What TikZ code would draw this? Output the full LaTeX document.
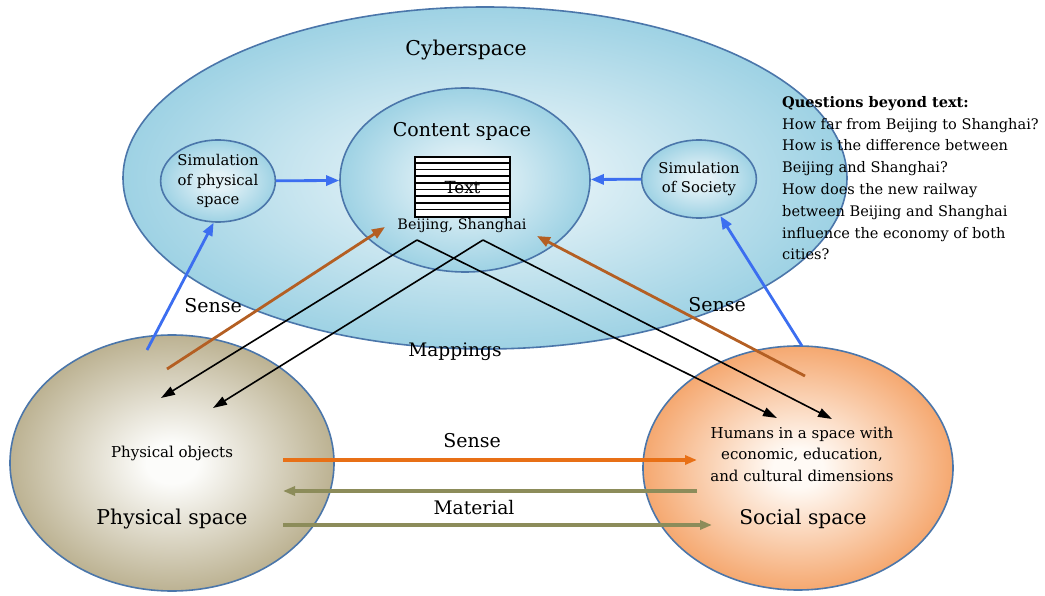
\documentclass[tikz,border=0pt]{standalone}
\usepackage{fontspec}
\setmainfont{DejaVu Serif}
\usetikzlibrary{shapes.geometric,arrows.meta}
\definecolor{bordercol}{RGB}{75,118,170}
\definecolor{cyberout}{RGB}{158,210,228}
\definecolor{cyberin}{RGB}{228,242,247}
\definecolor{physout}{RGB}{188,178,146}
\definecolor{physin}{RGB}{252,252,250}
\definecolor{socout}{RGB}{245,168,112}
\definecolor{socin}{RGB}{255,250,245}
\definecolor{bluearr}{RGB}{60,110,240}
\definecolor{brownarr}{RGB}{180,95,35}
\definecolor{orangearr}{RGB}{232,112,22}
\definecolor{olivearr}{RGB}{140,140,90}
\pgfdeclareradialshading{cybersh}{\pgfpoint{0bp}{0bp}}{color(0bp)=(cyberin); color(5bp)=(cyberin); color(25bp)=(cyberout); color(50bp)=(cyberout)}
\pgfdeclareradialshading{physsh}{\pgfpoint{0bp}{0bp}}{color(0bp)=(physin); color(4bp)=(physin); color(25bp)=(physout); color(50bp)=(physout)}
\pgfdeclareradialshading{socsh}{\pgfpoint{0bp}{0bp}}{color(0bp)=(socin); color(4bp)=(socin); color(25bp)=(socout); color(50bp)=(socout)}
\begin{document}
\begin{tikzpicture}[x=1pt,y=-1pt,
  space/.style={ellipse, draw=bordercol, line width=1.6pt, inner sep=0pt},
  cyber/.style={space, shading=cybersh},
  conn/.style={line width=2.8pt, -{Triangle[length=13pt,width=10pt]}},
  hconn/.style={line width=3.4pt, -{Triangle[length=12pt,width=9pt]}},
  bconn/.style={line width=1.6pt, -{Triangle[length=14pt,width=9pt]}},
  lbl/.style={inner sep=0pt, font=\fontsize{19}{22}\selectfont},
]
\useasboundingbox (0,0) rectangle (1045,596);

% cyberspace
\node[cyber, minimum width=724pt, minimum height=342pt] (cyber) at (485,178) {};
\node[lbl, font=\fontsize{20.4}{24}\selectfont] (cyberlbl) at (466,50) {Cyberspace};
\node[cyber, minimum width=250pt, minimum height=184pt] (content) at (465,180) {};
\node[lbl, font=\fontsize{19}{22}\selectfont] (contentlbl) at (462,131) {Content space};
\node[cyber, minimum width=110pt, minimum height=82pt, align=center,
  font=\fontsize{14.8}{19.5}\selectfont] (simphys) at (218,181) {Simulation\\of physical\\space};
\node[cyber, minimum width=106pt, minimum height=78pt, align=center,
  font=\fontsize{14.8}{19.5}\selectfont] (simsoc) at (699,179) {Simulation\\of Society};

% text document
\node[draw=black, fill=white, line width=1.6pt, minimum width=95pt, minimum height=60pt, inner sep=0pt] (doc) at (462.5,187) {};
\foreach \i in {1,...,8} {
  \draw[line width=1.6pt] ([yshift=-\i*6.67pt]doc.north west) -- ([yshift=-\i*6.67pt]doc.north east);
}
\node[lbl, font=\fontsize{16.7}{20}\selectfont] (doclbl) at (462.5,188) {Text};
\node[lbl, font=\fontsize{14.4}{18}\selectfont] (bs) at (462,226) {Beijing, Shanghai};

% physical and social spaces
\node[space, shading=physsh, minimum width=324pt, minimum height=256pt] (phys) at (172,463) {};
\node[space, shading=socsh, minimum width=310pt, minimum height=244pt] (soc) at (798,468) {};
\node[lbl, font=\fontsize{15}{19}\selectfont] (physobj) at (172,453) {Physical objects};
\node[lbl, font=\fontsize{20.4}{24}\selectfont] (physlbl) at (172,519) {Physical space};
\node[lbl, align=center, font=\fontsize{15}{21.5}\selectfont] (humans) at (802,454) {Humans in a space with\\economic, education,\\and cultural dimensions};
\node[lbl, font=\fontsize{20.2}{24}\selectfont] (soclbl) at (803,519) {Social space};

% questions
\node[inner sep=0pt, anchor=north west, align=left, font=\fontsize{14.55}{21.8}\selectfont] (questions) at (782,96)
 {\textbf{Questions beyond text:}\\How far from Beijing to Shanghai?\\How is the difference between\\Beijing and Shanghai?\\How does the new railway\\between Beijing and Shanghai\\influence the economy of both\\cities?};

% coordinates for free ends
\coordinate (pb) at (147,350);
\coordinate (sb) at (802,346);
\coordinate (pbr) at (167,369);
\coordinate (sbr) at (805,376);
\coordinate (cbl) at (385,227);
\coordinate (cbr) at (537,236);
\coordinate (ba) at (417,240);
\coordinate (bb) at (483,240);
\coordinate (pt1) at (161,398);
\coordinate (pt2) at (213,408);
\coordinate (st1) at (777,418);
\coordinate (st2) at (832,419);
\coordinate (ho1) at (283,460);
\coordinate (ho2) at (697,460);
\coordinate (hm1) at (283,491);
\coordinate (hm2) at (697,491);
\coordinate (hn1) at (283,525);
\coordinate (hn2) at (712,525);

% blue arrows
\draw[conn, bluearr] (pb) -- (simphys.-96);
\draw[conn, bluearr] (sb) -- (simsoc.-60);
\draw[conn, bluearr] (simphys) -- (content);
\draw[conn, bluearr] (simsoc) -- (content);

% brown sense arrows
\draw[conn, brownarr] (pbr) -- (cbl);
\draw[conn, brownarr] (sbr) -- (cbr);

% black mapping arrows
\draw[bconn] (ba) -- (pt1);
\draw[bconn] (bb) -- (pt2);
\draw[bconn] (ba) -- (st1);
\draw[bconn] (bb) -- (st2);

% horizontal arrows
\draw[hconn, orangearr] (ho1) -- (ho2);
\draw[hconn, olivearr] (hm2) -- (hm1);
\draw[hconn, olivearr] (hn1) -- (hn2);

% labels
\node[lbl] (sensel) at (213,306) {Sense};
\node[lbl] (senser) at (717,305) {Sense};
\node[lbl, font=\fontsize{18.6}{22}\selectfont] (mappings) at (455,352) {Mappings};
\node[lbl] (sensem) at (472,441) {Sense};
\node[lbl, font=\fontsize{18.7}{22}\selectfont] (material) at (474,508) {Material};
\end{tikzpicture}
\end{document}
